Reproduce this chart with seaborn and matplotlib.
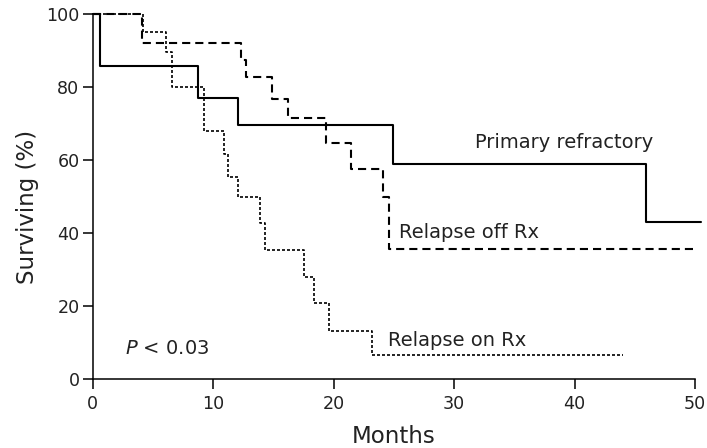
import matplotlib
matplotlib.use("Agg")
import matplotlib.pyplot as plt
import pandas as pd
import seaborn as sns

# Kaplan-Meier step values (months, % surviving) for each group
months_primary = [0, 0.6, 8.77, 12.05, 24.95, 45.9, 50.5]
surv_primary = [100, 85.7, 77.0, 69.5, 59.0, 43.0, 43.0]

months_off_rx = [0, 4.05, 12.3, 12.7, 14.9, 16.2, 19.4, 21.4, 24.1, 24.6, 49.8]
surv_off_rx = [100, 92.1, 87.5, 82.8, 76.6, 71.4, 64.8, 57.6, 50.0, 35.6, 35.6]

months_on_rx = [0, 4.2, 6.1, 6.55, 9.2, 10.9, 11.2, 12.1, 13.9, 14.3, 17.5, 18.4, 19.6, 23.15, 44.0]
surv_on_rx = [100, 95.0, 89.6, 80.0, 68.0, 61.8, 55.3, 49.8, 42.7, 35.4, 27.9, 20.8, 13.3, 6.6, 6.6]

group_names = ["Primary refractory", "Relapse off Rx", "Relapse on Rx"]
x_ticks = [0, 10, 20, 30, 40, 50]
y_ticks = [0, 20, 40, 60, 80, 100]
p_text = r"$\it{P}$ < 0.03"

sns.set_theme(style="ticks")
plt.rcParams["font.family"] = ["DejaVu Sans"]
plt.rcParams["mathtext.fontset"] = "dejavusans"

ink = "#222222"

fig = plt.figure(figsize=(7.07, 4.48), dpi=100)
ax = fig.add_axes([92.7 / 707, (448 - 379.3) / 448, 609.7 / 707, 365.3 / 448])

series = [
    (months_primary, surv_primary, dict(linewidth=1.5, linestyle="-")),
    (months_off_rx, surv_off_rx, dict(linewidth=1.5, linestyle=(0, (3.9, 2.4)))),
    (months_on_rx, surv_on_rx, dict(linewidth=1.2, linestyle=(0, (1.8, 1.2)))),
]

for name, (t, s, style) in zip(group_names, series):
    df = pd.DataFrame({"Months": t, "Surviving": s, "Group": name})
    sns.lineplot(
        data=df, x="Months", y="Surviving", ax=ax, color="black",
        drawstyle="steps-post", estimator=None, sort=False,
        legend=False, clip_on=False, **style,
    )

ax.set_xlim(0, 50.6)
ax.set_ylim(0, 100)
ax.set_xticks(x_ticks)
ax.set_yticks(y_ticks)
sns.despine(ax=ax)
ax.spines["bottom"].set_bounds(0, 50)
ax.spines["left"].set_bounds(0, 100)
for sp in ("left", "bottom"):
    ax.spines[sp].set_linewidth(1.1)
    ax.spines[sp].set_color("black")

ax.tick_params(axis="both", direction="out", length=7.5, width=1.1,
               color="black", labelsize=12.6, labelcolor=ink)
ax.tick_params(axis="y", pad=2)
ax.tick_params(axis="x", pad=4)

ax.set_xlabel("Months", fontsize=16.5, color=ink)
ax.set_ylabel("Surviving (%)", fontsize=16.5, color=ink)
ax.xaxis.set_label_coords(0.494, -0.1566)
ax.xaxis.label.set_va("center")
ax.yaxis.set_label_coords(-0.107, 0.472)
ax.yaxis.label.set_va("center")

ax.text(31.7, 63.2, group_names[0], fontsize=14, color=ink, ha="left", va="baseline")
ax.text(25.45, 38.7, group_names[1], fontsize=14, color=ink, ha="left", va="baseline")
ax.text(24.5, 9.15, group_names[2], fontsize=14, color=ink, ha="left", va="baseline")
ax.text(2.68, 6.9, p_text, fontsize=14, color=ink, ha="left", va="baseline")

fig.savefig("out.png", dpi=100)
